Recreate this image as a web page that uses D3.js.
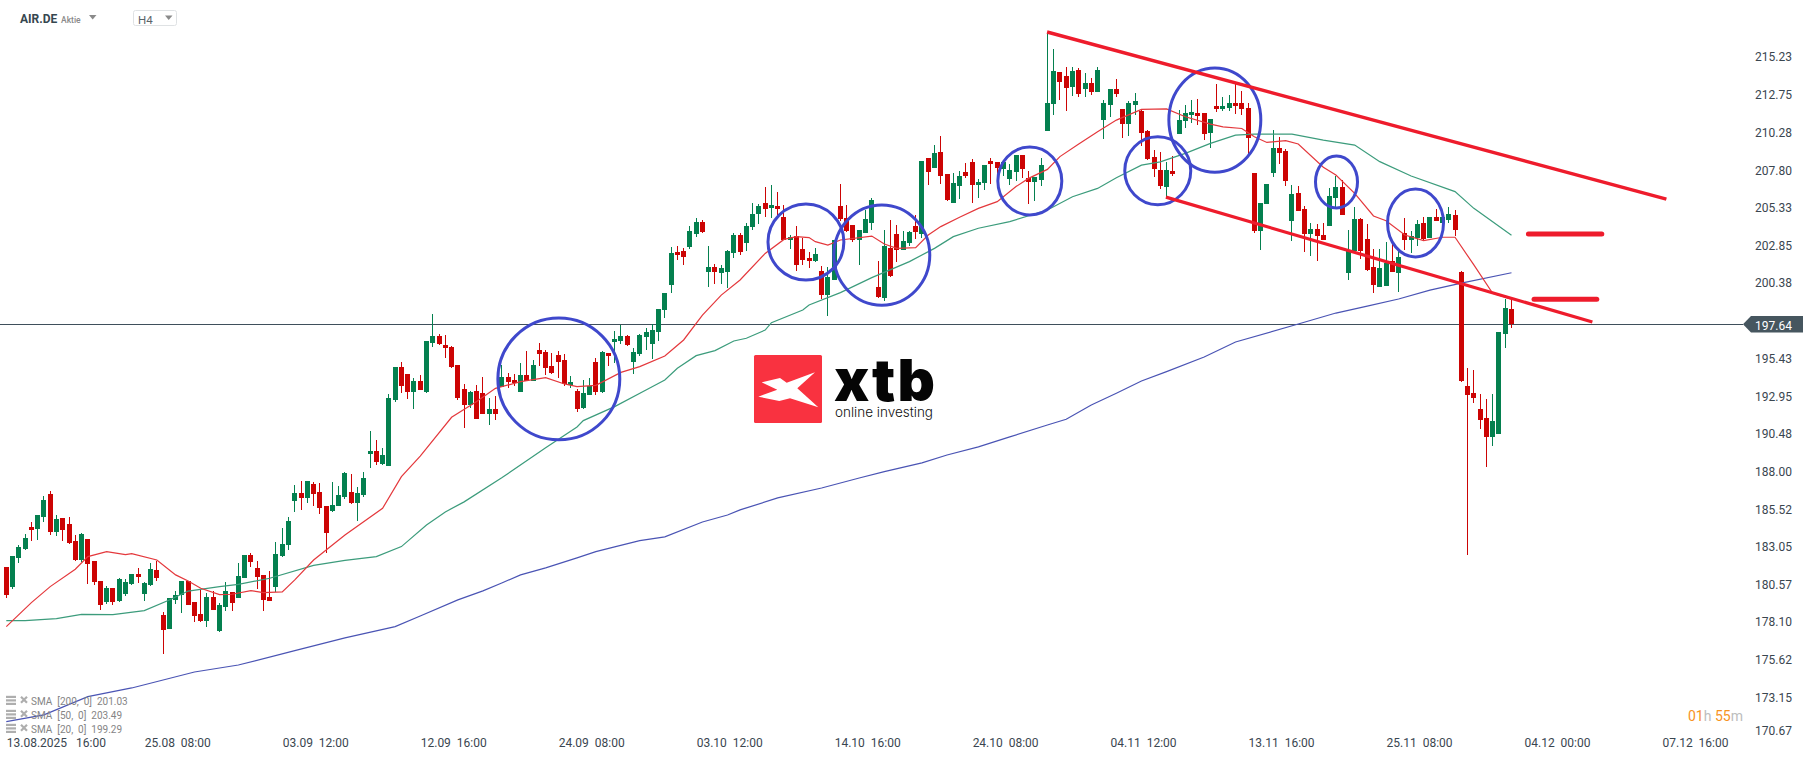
<!DOCTYPE html>
<html><head><meta charset="utf-8">
<script src="https://cdn.jsdelivr.net/npm/d3@7/dist/d3.min.js"></script>
<style>
html,body{margin:0;padding:0;background:#fff;overflow:hidden}
svg{display:block;font-family:Roboto,sans-serif}
text{white-space:pre}
</style></head><body><svg id="c" width="1815" height="761"></svg>
<script>
const opens=[
181.69,180.40,182.31,182.90,184.32,184.21,185.00,186.49,184.01,184.91,
184.52,183.40,182.15,183.53,182.09,180.77,179.39,180.31,179.46,179.94,
180.60,181.23,179.94,180.51,181.50,178.54,177.64,179.55,179.83,180.75,
179.39,178.60,178.17,179.72,177.51,179.06,180.05,179.68,180.99,182.48,
181.63,181.17,179.72,180.40,182.41,183.16,186.05,186.55,186.25,187.15,
186.62,185.70,185.37,185.72,186.27,186.62,185.92,186.42,189.14,189.31,
188.46,188.35,192.69,194.83,194.37,193.19,193.91,193.19,196.43,196.87,
196.28,196.15,194.97,193.39,192.36,193.26,193.13,191.77,192.07,193.50,
194.18,193.98,193.19,194.31,193.89,195.95,195.82,194.90,195.62,195.29,
193.65,193.26,192.14,192.99,195.16,193.19,195.75,196.48,196.54,196.87,
195.16,195.69,196.81,196.34,197.13,198.58,200.22,202.39,202.45,202.72,
203.57,204.36,201.08,201.40,201.01,201.08,202.32,203.51,202.98,204.03,
204.89,205.61,205.28,205.41,204.69,203.18,203.45,202.59,202.00,201.80,
201.15,199.57,200.55,205.42,204.63,204.17,203.18,203.64,204.30,200.09,
199.37,202.66,203.58,202.53,202.98,204.10,203.58,208.57,207.91,208.96,
207.52,205.61,206.73,207.65,208.31,206.80,206.93,208.37,208.31,207.85,
207.19,207.65,208.77,207.26,206.99,207.12,210.36,212.11,214.21,213.95,
213.23,214.35,213.10,213.49,212.90,211.06,212.05,213.10,211.78,210.80,
212.05,211.65,210.34,208.63,207.77,206.66,207.71,210.14,211.00,211.39,
211.52,211.52,210.21,211.98,211.78,211.85,212.18,212.18,211.85,207.58,
203.77,205.55,207.58,209.23,209.03,204.43,206.27,205.22,203.58,203.91,
203.51,204.10,205.94,206.66,201.01,202.46,204.56,203.25,201.41,200.10,
200.16,201.80,201.01,203.64,203.18,203.31,204.30,203.31,204.69,204.30,
204.50,204.83,201.08,193.59,193.13,192.07,191.48,190.24,190.43,197.00,
198.65];
const highs=[
181.69,182.41,183.14,183.84,184.65,185.11,186.36,186.69,185.09,184.91,
184.96,183.79,183.90,183.53,182.09,180.77,180.44,180.31,180.95,180.90,
181.23,181.60,180.68,181.93,182.09,178.71,179.66,180.09,180.75,180.79,
179.39,180.18,180.01,180.09,179.33,180.68,180.05,181.93,182.48,182.61,
182.09,181.17,181.41,183.33,184.28,184.98,187.10,187.36,187.36,187.25,
187.21,185.70,187.30,187.04,187.96,187.82,186.93,187.96,190.63,190.04,
189.51,193.04,194.83,195.16,194.37,194.11,194.31,196.54,198.32,197.00,
196.94,196.21,194.97,193.72,193.26,193.65,194.18,192.80,192.93,194.97,
194.44,194.37,195.10,195.89,195.29,196.41,195.95,195.75,195.89,195.69,
194.24,193.39,193.98,194.11,195.43,195.89,195.75,197.20,197.62,196.94,
196.08,197.00,197.40,197.66,198.64,199.70,202.72,202.78,202.63,204.10,
204.62,204.49,202.78,201.60,201.54,202.52,203.64,203.64,204.29,205.61,
205.54,206.66,206.79,206.33,205.48,203.51,204.10,203.31,202.39,202.66,
201.47,201.41,203.18,206.86,205.48,204.17,203.84,205.15,205.94,201.80,
203.84,204.50,204.17,203.77,203.77,204.82,208.37,208.57,209.42,210.03,
207.52,207.58,207.72,208.24,208.50,207.19,208.11,208.57,208.31,208.44,
208.18,208.77,208.77,207.72,207.32,208.57,216.84,215.72,214.21,214.54,
214.54,214.48,214.15,213.82,214.54,212.37,213.10,213.75,211.78,212.31,
212.83,211.72,210.40,209.09,208.96,208.30,208.69,211.72,212.05,212.37,
212.44,211.52,211.13,213.43,212.57,212.70,213.43,212.97,212.18,207.58,
205.61,206.86,210.41,209.95,209.16,206.80,206.73,205.42,204.30,204.23,
204.30,206.60,207.39,207.12,203.84,205.35,204.63,204.23,202.59,202.59,
203.05,202.99,202.53,204.63,203.77,204.50,204.69,204.69,205.22,204.69,
205.35,205.15,201.14,194.77,194.64,193.06,192.73,193.06,197.13,199.30,
199.30];
const lows=[
179.68,180.27,181.98,182.81,183.42,183.49,184.67,183.82,183.75,183.42,
183.18,182.09,182.04,180.60,180.53,178.87,179.26,179.22,179.37,179.81,
180.53,180.66,179.48,180.47,180.79,176.00,177.64,179.26,178.69,179.22,
178.10,178.08,177.77,178.87,177.44,178.82,178.82,179.66,180.99,181.71,
180.25,178.82,179.48,180.05,182.33,182.81,185.31,185.44,185.92,185.70,
185.20,182.63,185.33,185.72,186.18,185.85,184.71,186.29,188.22,188.42,
188.39,188.35,192.56,193.15,192.75,192.07,193.34,193.15,196.17,196.30,
195.43,194.77,192.67,190.83,192.14,191.42,191.77,191.02,191.35,193.50,
193.45,193.59,193.19,193.89,193.89,194.90,194.31,194.37,194.11,193.59,
193.45,191.90,192.07,192.99,192.99,193.15,194.90,195.10,196.34,196.21,
194.37,195.56,195.95,195.36,196.54,198.05,199.70,201.86,201.54,202.59,
203.37,203.64,200.09,200.29,200.29,200.02,201.99,202.19,202.45,203.83,
204.23,204.69,204.62,204.82,203.18,202.59,201.15,201.54,201.34,201.74,
199.31,198.19,200.55,204.43,203.71,203.05,201.54,203.64,203.84,199.37,
199.17,200.75,201.74,202.53,202.79,203.25,203.31,206.80,207.91,206.86,
205.74,205.61,205.88,207.26,205.61,205.94,206.47,206.86,207.12,207.39,
206.80,207.06,207.26,205.55,205.74,206.73,210.36,211.39,212.37,211.65,
212.64,212.57,212.57,212.70,212.90,209.81,211.26,212.57,209.88,210.01,
211.39,209.35,208.43,207.31,206.53,206.00,207.38,210.14,210.53,210.86,
210.73,209.75,209.22,211.59,211.65,211.65,211.45,211.39,208.76,203.64,
202.53,205.55,207.32,208.18,206.73,203.12,205.09,202.39,202.13,201.80,
203.18,204.10,205.22,204.83,200.55,202.46,201.93,201.15,199.70,200.10,
200.16,201.08,199.77,202.53,202.33,202.79,203.12,203.31,204.43,203.71,
204.30,203.45,193.85,182.48,192.47,190.76,188.26,189.65,190.43,196.08,
197.40];
const closes=[
179.87,182.41,183.03,183.60,184.15,185.11,186.09,184.01,184.87,184.15,
183.27,182.15,183.88,181.91,180.73,179.22,180.31,179.39,180.90,180.68,
181.23,181.06,180.62,181.56,180.99,177.57,179.66,179.85,180.75,179.22,
178.49,178.14,179.72,178.89,179.20,180.09,179.35,181.10,182.48,182.04,
181.03,179.55,179.48,182.55,183.20,184.71,186.55,186.25,187.34,186.51,
185.57,183.95,185.77,186.42,187.89,185.92,186.53,187.52,189.29,188.61,
189.05,192.78,194.83,193.61,193.19,193.91,193.34,196.54,196.87,196.34,
196.10,194.83,192.80,192.36,193.19,191.42,191.77,192.07,191.77,194.18,
193.85,193.80,194.31,193.89,194.97,195.69,194.77,194.44,195.16,193.72,
193.85,192.07,193.13,193.59,193.19,195.82,195.56,196.67,196.87,196.28,
195.82,196.94,197.13,197.26,198.64,199.70,202.32,202.19,202.06,203.77,
204.36,203.70,201.40,201.08,201.34,202.45,203.51,202.39,204.10,204.89,
205.41,205.21,205.48,205.21,203.18,203.38,201.54,201.87,201.80,202.26,
199.57,200.75,203.18,204.56,203.77,203.18,203.84,204.56,205.81,199.44,
202.79,200.82,202.53,203.12,203.71,203.71,208.37,207.65,208.90,207.39,
205.81,206.93,207.39,207.39,206.80,206.99,208.11,208.18,207.91,208.31,
207.78,208.77,207.85,206.99,207.32,208.11,212.18,214.28,213.56,213.16,
214.28,212.77,213.49,212.90,214.35,212.18,213.10,212.77,210.80,212.18,
212.31,210.21,208.50,207.84,206.72,207.77,207.51,211.06,211.52,211.59,
211.32,210.14,211.13,211.78,211.98,212.18,211.98,211.78,209.88,203.77,
205.61,206.86,209.23,208.90,207.06,206.21,205.09,203.58,203.91,203.45,
203.18,206.07,206.66,204.83,202.46,204.56,202.46,201.21,200.23,201.34,
201.67,201.08,202.07,203.18,203.45,204.23,203.25,204.69,204.43,204.69,
204.89,203.84,193.92,193.00,192.80,191.35,190.24,191.29,197.13,198.71,
197.64];

const sma20Bars=[0,4,7,11,13,16,19,20,24,27,29,31,34,36,39,41,44,46,49,54,60,63,66,71,75,78,82,86,89,91,94,98,101,105,108,111,114,117,121,124,126,128,129,131,133,138,140,142,145,147,149,152,155,158,161,163,166,168,171,174,177,181,185,188,192,194,197,199,201,204,206,210,212,215,218,220,223,226,229,231,234,237,240];
const sma20Vals=[177.77,179.35,180.40,181.54,182.37,182.70,182.50,182.57,182.15,181.17,180.77,180.29,179.87,179.90,180.14,180.00,180.05,180.84,182.15,183.79,185.55,187.63,188.98,191.53,192.56,193.43,193.87,194.13,193.72,193.54,193.63,194.48,194.86,195.56,196.61,198.25,199.56,200.55,202.30,203.22,203.40,203.34,203.07,202.85,203.18,203.44,202.92,202.63,202.68,203.51,204.06,204.67,205.26,205.70,206.69,207.23,207.82,208.66,209.49,210.29,211.06,211.76,211.80,211.28,210.80,210.62,210.51,209.96,209.59,209.71,209.49,207.96,207.45,206.25,204.76,204.45,203.51,203.14,203.36,203.36,201.54,199.68,199.29];
const sma50Bars=[0,3,8,12,17,22,26,29,34,37,42,49,54,59,63,67,70,73,79,86,91,92,97,102,105,107,110,113,116,118,121,122,127,128,133,138,144,148,151,155,160,166,170,174,177,181,184,188,192,196,199,205,210,215,219,224,231,234,240];
const sma50Vals=[178.17,178.17,178.30,178.58,178.56,178.82,179.52,180.11,180.40,180.55,180.95,181.80,182.13,182.37,183.03,184.45,185.31,185.97,187.55,189.52,190.89,191.31,192.23,193.32,193.98,194.75,195.58,195.91,196.54,196.72,197.26,197.75,198.58,198.91,199.72,200.71,201.76,202.63,203.40,203.95,204.39,205.15,206.02,206.57,207.27,208.10,208.32,208.87,209.53,210.07,210.14,210.14,209.75,209.42,208.33,207.39,206.36,205.26,203.49];
const sma200Bars=[0,6,13,20,30,37,46,54,62,66,72,76,79,82,86,91,94,97,101,105,111,115,117,123,130,136,140,146,150,155,160,166,169,173,177,181,185,191,196,206,212,217,222,227,232,240];
const sma200Vals=[171.53,171.97,173.17,173.74,174.79,175.25,176.19,177.03,177.77,178.47,179.53,180.12,180.64,181.17,181.63,182.29,182.70,183.01,183.42,183.67,184.65,185.11,185.44,186.23,186.88,187.54,187.96,188.53,189.05,189.58,190.24,191.02,191.40,192.34,193.11,193.91,194.53,195.49,196.48,197.66,198.38,198.84,199.30,199.89,200.35,201.03];

const priceTicks=[215.23,212.75,210.28,207.80,205.33,202.85,200.38,195.43,192.95,190.48,188.00,185.52,183.05,180.57,178.10,175.62,173.15,170.67];
const timeBars=[0,22,44,66,88,110,132,154,176,198,220,242,264];
const timeLabels=["13.08.2025   16:00","25.08  08:00","03.09  12:00","12.09  16:00","24.09  08:00","03.10  12:00","14.10  16:00","24.10  08:00","04.11  12:00","13.11  16:00","25.11  08:00","04.12  00:00","07.12  16:00"];
const lastPrice=197.64;
const legendLabels=["SMA  [200,  0]  201.03","SMA  [50,  0]  203.49","SMA  [20,  0]  199.29"];

// annotations drawn on the chart: [bar, price] ends and ellipse centre/half-extent
const trendUpper=[[165.95,216.85],[264.7,205.87]];
const trendLower=[[184.9,206.00],[252.9,197.79]];
const levelUpper=[[242.7,203.57],[254.4,203.57]];
const levelLower=[[243.6,199.28],[253.6,199.28]];
const circleBars=[88.1,127.5,139.6,163.2,183.6,192.7,212.1,224.7];
const circlePrices=[194.05,203.05,202.19,207.06,207.73,211.06,206.99,204.30];
const circleBarRadii=[9.72,6.05,7.65,5.1,5.26,7.33,3.35,4.46];
const circlePriceRadii=[4.0,2.5,3.29,2.23,2.23,3.42,1.71,2.23];

const GREEN="#04804f",RED="#cc0404",TREND="#ee1c2c",CIRCLE="#3f48cc",SLATE="#3f4f5b",INK="#3a4650";
const svg=d3.select("#c");
const x=d3.scaleLinear().domain([0,264]).range([6.3,1662]);
const y=d3.scaleLinear().domain([197.64,183.05]).range([324.3,546.3]);

// price line
svg.append("line").attr("x1",0).attr("x2",1743).attr("y1",Math.floor(y(lastPrice))+.5).attr("y2",Math.floor(y(lastPrice))+.5).attr("stroke",SLATE).attr("stroke-width",1);

// candles
const bars=d3.range(opens.length);
const gC=svg.append("g").attr("shape-rendering","crispEdges");
gC.selectAll("rect.w").data(bars).join("rect").attr("class","w")
 .attr("x",i=>Math.floor(x(i))).attr("width",1)
 .attr("y",i=>y(highs[i])).attr("height",i=>Math.max(1,y(lows[i])-y(highs[i])))
 .attr("fill",i=>closes[i]<opens[i]?RED:GREEN);
gC.selectAll("rect.b").data(bars).join("rect").attr("class","b")
 .attr("x",i=>Math.floor(x(i))-2).attr("width",5)
 .attr("y",i=>y(Math.max(opens[i],closes[i]))).attr("height",i=>Math.max(1,Math.abs(y(opens[i])-y(closes[i]))))
 .attr("fill",i=>closes[i]<opens[i]?RED:GREEN);

// moving averages
const line=d3.line().x(d=>x(d[0])).y(d=>y(d[1]));
const smaSeries=[[sma200Bars,sma200Vals,"#4a54b4"],[sma50Bars,sma50Vals,"#3c9c7c"],[sma20Bars,sma20Vals,"#e4383c"]];
smaSeries.forEach(([b,v,c])=>svg.append("path").attr("d",line(b.map((k,n)=>[k,v[n]]))).attr("fill","none").attr("stroke",c).attr("stroke-width",1.2));

// circles
svg.append("g").selectAll("ellipse").data(circleBars).join("ellipse")
 .attr("cx",(d,n)=>x(d)).attr("cy",(d,n)=>y(circlePrices[n]))
 .attr("rx",(d,n)=>x(d+circleBarRadii[n])-x(d))
 .attr("ry",(d,n)=>y(circlePrices[n]-circlePriceRadii[n])-y(circlePrices[n]))
 .attr("fill","none").attr("stroke",CIRCLE).attr("stroke-width",3);

// trend lines and levels
[[trendUpper,3.4,"butt"],[trendLower,3.2,"butt"],[levelUpper,5,"round"],[levelLower,5,"round"]].forEach(([p,w,cap])=>
 svg.append("path").attr("d",line(p)).attr("fill","none").attr("stroke",TREND).attr("stroke-width",w).attr("stroke-linecap",cap));

// price axis
const yAxis=d3.axisRight(y).tickValues(priceTicks).tickSize(0).tickPadding(0).tickFormat(d3.format(".2f"));
const gy=svg.append("g").attr("transform","translate(1755,0.5)").call(yAxis);
gy.select(".domain").remove();
gy.selectAll("text").attr("font-family","Roboto,sans-serif").attr("font-size",12).attr("fill",INK);
gy.selectAll(".tick").filter(d=>d===170.67).attr("transform","translate(0,731)");

// time axis
const xAxis=d3.axisBottom(x).tickValues(timeBars).tickSize(0).tickPadding(0).tickFormat((d,n)=>timeLabels[n]);
const gx=svg.append("g").attr("transform","translate(0,738)").call(xAxis);
gx.select(".domain").remove();
gx.selectAll("text").attr("text-anchor","start").attr("font-family","Roboto,sans-serif").attr("font-size",12).attr("fill",INK).attr("y",0).attr("dy","0.71em");

// last price tag
const ly=y(lastPrice);
svg.append("polygon").attr("points",[[1743,ly],[1751,ly-8.3],[1803,ly-8.3],[1803,ly+8.3],[1751,ly+8.3]].join(" ")).attr("fill","#46565f");
svg.append("text").attr("x",1755).attr("y",ly+5.5).attr("font-size",12).attr("fill","#fff").text(d3.format(".2f")(lastPrice));

// legend
const lg=svg.append("g");
legendLabels.forEach((t,n)=>{
 const cy=701.3+14*n;
 [-5.5,-2,1.5].forEach(o=>lg.append("rect").attr("x",6).attr("y",cy+o).attr("width",10).attr("height",2.2).attr("fill","#aeaeae"));
 lg.append("path").attr("d",`M21 ${cy-4.5}L27 ${cy+1.5}M27 ${cy-4.5}L21 ${cy+1.5}`).attr("stroke","#aeaeae").attr("stroke-width",2.2);
 lg.append("text").attr("x",31).attr("y",cy+4).attr("font-size",10).attr("fill","#858585").text(t);
});

// header
svg.append("text").attr("x",20).attr("y",23).attr("font-size",12).attr("font-weight",700).attr("fill","#36474f").text("AIR.DE");
svg.append("text").attr("x",61).attr("y",23).attr("font-size",8.5).attr("font-weight",500).attr("fill","#8a8a8a").text("Aktie");
svg.append("polygon").attr("points","89,15 96.5,15 92.7,19.5").attr("fill","#8a8a8a");
svg.append("rect").attr("x",133.5).attr("y",10.5).attr("width",43).attr("height",15).attr("rx",2).attr("fill","#fff").attr("stroke","#dfe2e4");
svg.append("text").attr("x",138).attr("y",24).attr("font-size",11.5).attr("fill","#5b6469").text("H4");
svg.append("polygon").attr("points","165,15.5 172.5,15.5 168.7,20").attr("fill","#8a8a8a");

// countdown
const cd=svg.append("text").attr("x",1688).attr("y",721).attr("font-size",14);
[["01","#f7931e"],["h ","#bdbdbd"],["55","#f7931e"],["m","#bdbdbd"]].forEach(([t,c])=>cd.append("tspan").attr("fill",c).text(t));

// logo
const logo=svg.append("g");
logo.append("rect").attr("x",754).attr("y",355).attr("width",68).attr("height",68).attr("rx",1.5).attr("fill","#f93240");
logo.append("polygon").attr("points","761.7,382.3 780,378 786.7,382.7 815,372.3 797.3,388.3 818.3,407.3 790,398.3 779.3,401 758.3,396.7 777.3,389.7").attr("fill","#fff");
logo.append("text").attr("x",834).attr("y",401).attr("font-family","Inter,sans-serif").attr("font-weight",900).attr("font-size",58).attr("fill","#050505").attr("textLength",101).attr("lengthAdjust","spacing").text("xtb");
logo.append("text").attr("x",835).attr("y",417).attr("font-family","Inter,sans-serif").attr("font-weight",300).attr("font-size",13.5).attr("fill","#111").attr("textLength",98).attr("lengthAdjust","spacingAndGlyphs").text("online investing");
</script></body></html>
